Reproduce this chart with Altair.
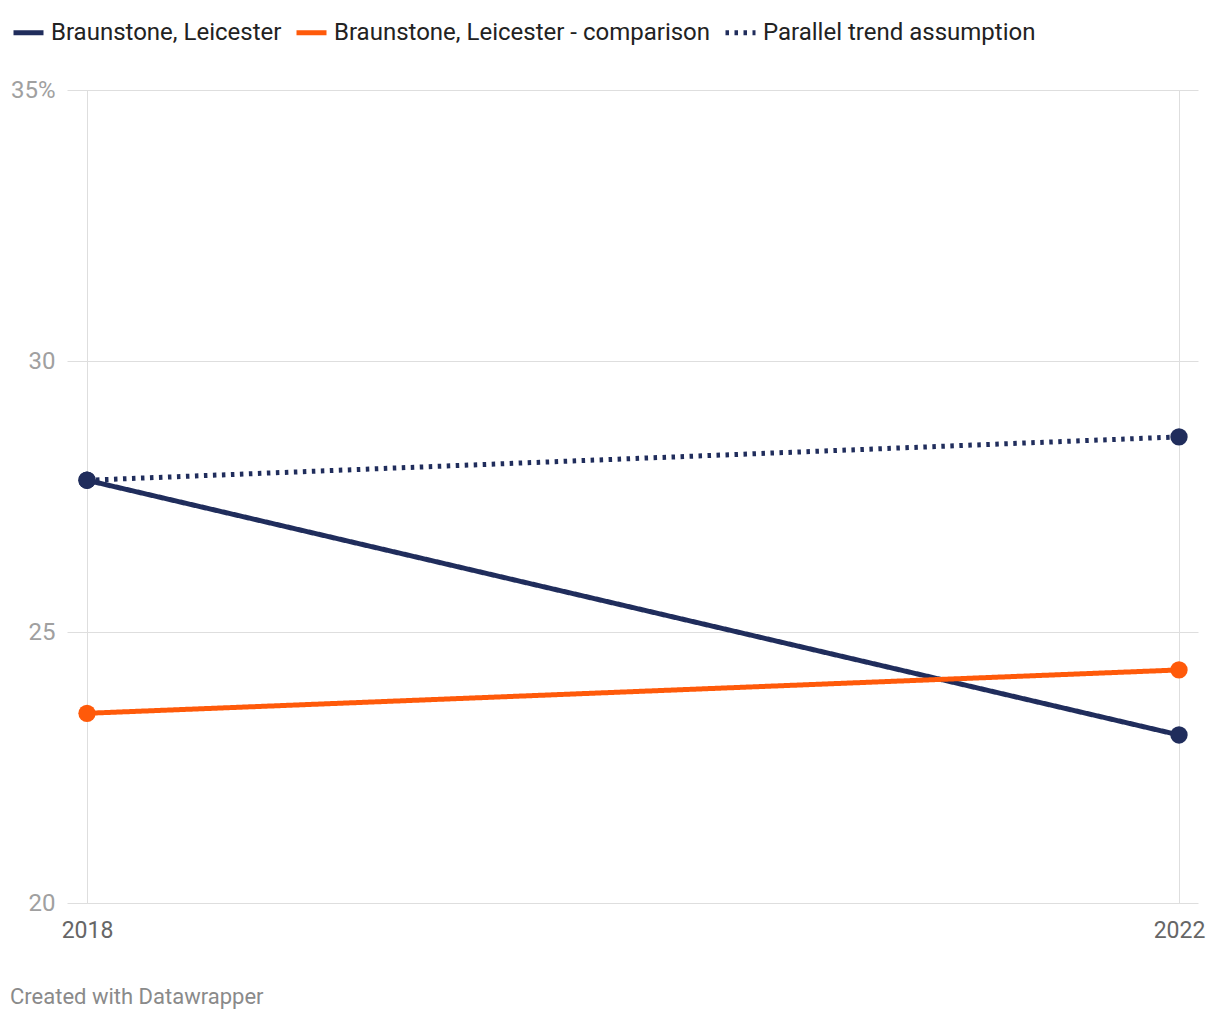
import altair as alt
import pandas as pd

series_names = ["Braunstone, Leicester", "Braunstone, Leicester - comparison", "Parallel trend assumption"]
years = [2018, 2022]
braunstone = [27.8, 23.1]
comparison = [23.5, 24.3]
parallel = [27.8, 28.6]
y_ticks = [20, 25, 30, 35]
colors = ["#202d5c", "#ff5a0a", "#202d5c"]
footer = ["Created with Datawrapper"]

rows = []
for name, vals in zip(series_names, [braunstone, comparison, parallel]):
    for yr, v in zip(years, vals):
        rows.append({"series": name, "year": yr, "value": v})
df = pd.DataFrame(rows)

# x domain padded so that the plot frame extends slightly beyond the first/last year
x_enc = alt.X("year:Q",
              scale=alt.Scale(domain=[2017.9267, 2022.0696], nice=False, zero=False),
              axis=alt.Axis(values=years, format="d", grid=True, ticks=False, domain=False,
                            labelFontSize=23, labelColor="#666666", labelPadding=16,
                            labelFlush=False, gridColor="#dedede", title=None))
y_enc = alt.Y("value:Q",
              scale=alt.Scale(domain=[20, 35], nice=False, zero=False),
              axis=alt.Axis(values=y_ticks, labelExpr="datum.value == 35 ? '35%' : datum.label",
                            grid=True, ticks=False, domain=False, labelColor="#a0a0a0",
                            labelFontSize=24, labelPadding=12, gridColor="#dedede", title=None))

color_scale = alt.Scale(domain=series_names, range=colors)

lines = alt.Chart(df).mark_line().encode(
    x=x_enc, y=y_enc,
    color=alt.Color("series:N", scale=color_scale, sort=series_names, title=None,
                    legend=alt.Legend(symbolType="stroke", orient="none", legendX=-56, legendY=-75,
                                      direction="horizontal")),
    strokeDash=alt.StrokeDash("series:N", scale=alt.Scale(domain=series_names, range=[[1, 0], [1, 0], [3.5, 5.5]]), sort=series_names, title=None),
    strokeWidth=alt.StrokeWidth("series:N", scale=alt.Scale(domain=series_names, range=[5, 5, 3.5]), sort=series_names, title=None),
    order=alt.Order("year:Q"),
)

points = alt.Chart(df).mark_circle(size=300, opacity=1).encode(
    x=x_enc, y=y_enc,
    color=alt.Color("series:N", scale=color_scale, sort=series_names, title=None),
)

foot = alt.Chart(pd.DataFrame({"t": footer})).mark_text(
    align="left", baseline="middle", fontSize=22, color="#8a8a8a", font="Roboto"
).encode(x=alt.value(-57), y=alt.value(907), text="t:N")

chart = alt.layer(lines, points, foot).properties(
    width=1131, height=813,
    padding={"left": 59, "top": 82, "right": 12, "bottom": 110},
    autosize=alt.AutoSizeParams(type="none"),
).configure(font="Roboto").configure_view(stroke=None).configure_legend(
    orient="none", legendX=-56, legendY=-75, direction="horizontal",
    symbolType="stroke", symbolSize=900, labelFontSize=24, labelColor="#222222",
    labelOffset=5, columnPadding=4, labelLimit=600, symbolStrokeWidth=5,
)

chart.save("out.html", embed_options={"renderer": "svg", "actions": False})
